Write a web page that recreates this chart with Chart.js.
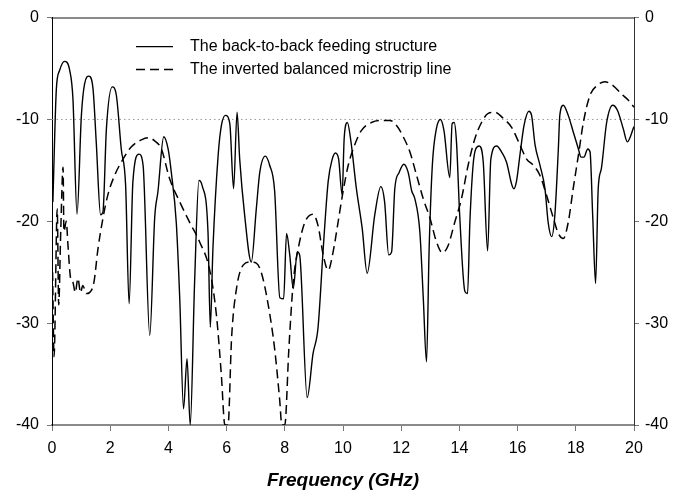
<!DOCTYPE html>
<html><head><meta charset="utf-8">
<script src="https://cdn.jsdelivr.net/npm/chart.js@4/dist/chart.umd.min.js"></script>
<style>html,body{margin:0;padding:0;background:#fff}#wrap{width:674px;height:492px}</style>
</head><body><div id="wrap"><canvas id="c" width="674" height="492"></canvas></div>
<script>
// ---- Data ----
const seriesNames = ["The back-to-back feeding structure", "The inverted balanced microstrip line"];

const freqA = [0.03,0.15,0.26,0.43,0.61,0.72,0.86,1.01,1.12,1.27,1.41,1.52,1.67,1.75,1.87,2.07,2.21,2.38,2.53,2.65,2.78,2.99,3.13,3.36,3.53,3.64,3.84,3.99,4.10,4.27,4.39,4.52,4.64,4.75,4.90,5.05,5.16,5.36,5.44,5.53,5.71,5.82,5.96,6.11,6.24,6.36,6.45,6.62,6.85,7.02,7.14,7.33,7.48,7.65,7.83,7.96,8.06,8.17,8.29,8.43,8.51,8.77,8.97,9.14,9.32,9.49,9.63,9.74,9.85,9.97,10.04,10.15,10.27,10.46,10.66,10.83,11.09,11.30,11.43,11.57,11.67,11.78,11.93,12.09,12.24,12.36,12.47,12.64,12.76,12.87,12.96,13.07,13.21,13.35,13.47,13.67,13.75,13.82,13.90,14.01,14.19,14.28,14.36,14.47,14.56,14.68,14.82,14.97,15.08,15.28,15.45,15.62,15.80,15.87,15.96,16.08,16.22,16.39,16.48,16.60,16.77,16.94,17.05,17.17,17.28,17.40,17.45,17.57,17.74,17.91,18.09,18.18,18.28,18.41,18.49,18.58,18.68,18.77,18.88,19.06,19.27,19.43,19.63,19.77,20.00];
const lossA = [-18.1,-7.0,-5.2,-4.3,-5.2,-8.0,-19.3,-9.6,-6.5,-5.75,-7.0,-12.2,-19.35,-19.1,-10.9,-6.8,-7.6,-12.9,-16.5,-28.1,-16.1,-13.4,-14.5,-31.2,-19.6,-17.1,-11.7,-12.9,-15.2,-20.1,-27.6,-38.4,-33.5,-40,-26,-16.0,-16.5,-21.0,-30.4,-22.7,-13.5,-10.6,-9.6,-10.4,-16.8,-9.3,-13.9,-19.4,-24.0,-18.8,-15.2,-13.6,-14.5,-17.0,-27.5,-27.6,-21.2,-23.3,-26.6,-23.0,-23.3,-37.3,-33.0,-30.5,-22.7,-16.1,-13.9,-13.3,-13.9,-17.4,-11.9,-10.3,-12.1,-16.8,-20.7,-25.1,-19.4,-16.6,-18.1,-23.3,-23.0,-16.8,-15.2,-14.4,-15.2,-17.0,-17.8,-21.0,-27.6,-33.8,-22.7,-14.5,-10.9,-10.0,-11.1,-15.7,-10.4,-10.3,-12.2,-19.4,-26.9,-27.1,-20.1,-14.5,-12.9,-12.6,-14.2,-22.9,-13.9,-12.6,-13.2,-14.2,-16.4,-16.8,-16.1,-13.5,-10.6,-9.2,-9.6,-12.5,-14.5,-16.8,-20.1,-21.5,-19.4,-12.9,-9.6,-8.6,-9.6,-11.2,-12.9,-13.7,-13.7,-12.9,-13.2,-19.4,-26.1,-16.8,-14.8,-10.3,-8.6,-9.1,-10.9,-12.2,-10.7];

const freqB = [0.02,0.07,0.18,0.23,0.30,0.38,0.41,0.49,0.55,0.64,0.72,0.80,0.89,0.98,1.06,1.18,1.29,1.44,1.58,1.75,1.92,2.15,2.44,2.72,3.07,3.30,3.53,3.76,4.04,4.39,4.73,5.07,5.42,5.65,5.82,5.94,6.05,6.17,6.34,6.57,6.80,7.02,7.20,7.43,7.65,7.82,7.90,8.00,8.14,8.29,8.46,8.69,8.97,9.14,9.32,9.49,9.66,9.83,10.00,10.18,10.40,10.63,10.98,11.32,11.61,11.84,12.07,12.30,12.53,12.76,12.99,13.21,13.42,13.61,13.84,14.07,14.30,14.53,14.76,14.99,15.22,15.51,15.80,16.08,16.31,16.54,16.77,17.00,17.23,17.40,17.57,17.74,17.91,18.09,18.26,18.49,18.72,19.00,19.29,19.57,19.80,20.00];
const lossB = [-25.0,-33.3,-18.8,-28.2,-21.0,-14.7,-21.0,-20.0,-22.4,-25.6,-26.0,-27.0,-25.6,-27.0,-26.3,-27.1,-27.0,-26.0,-22.7,-19.7,-17.4,-15.5,-13.9,-12.7,-12.0,-11.8,-12.1,-12.9,-15.8,-18.1,-20.1,-22.0,-24.8,-29.2,-35.1,-40,-40,-31.5,-26.6,-24.3,-24.0,-24.1,-25.1,-28.2,-32.5,-37.4,-40,-40,-32.5,-26.0,-22.7,-20.1,-19.3,-20.4,-23.3,-24.8,-23.0,-20.1,-17.1,-14.5,-12.5,-11.1,-10.3,-10.1,-10.1,-10.6,-11.7,-13.2,-15.5,-17.8,-19.7,-22.0,-23.1,-22.4,-20.1,-17.8,-14.5,-11.9,-10.3,-9.4,-9.3,-9.9,-10.8,-12.5,-13.9,-14.5,-15.5,-17.5,-19.7,-21.2,-21.7,-20.1,-16.8,-13.5,-10.3,-7.6,-6.7,-6.3,-6.7,-7.5,-8.1,-8.8];

const refX = [0, 20];
const refY = [-10, -10];

const xTicks = [0,2,4,6,8,10,12,14,16,18,20];
const yTicks = [-40,-30,-20,-10,0];
const xTitle = "Frequency (GHz)";

// ---- Build ----
const toPts = (xs, ys) => xs.map((x, i) => ({x: x, y: ys[i]}));
const FONT = '"Liberation Sans", Arial, Helvetica, sans-serif';
Chart.defaults.font.family = FONT;
Chart.defaults.font.size = 16;
Chart.defaults.color = '#000';

const legendPlugin = {
  id: 'insideLegend',
  afterDatasetsDraw(chart) {
    const ctx = chart.ctx, area = chart.chartArea;
    const items = chart.data.datasets.filter(d => d.inLegend);
    ctx.save();
    items.forEach((d, i) => {
      const y = area.top + 29 + i * 23;
      ctx.beginPath();
      ctx.setLineDash(d.borderDash || []);
      ctx.lineWidth = d.borderWidth;
      ctx.strokeStyle = d.borderColor;
      ctx.moveTo(area.left + 84, y);
      ctx.lineTo(area.left + 121, y);
      ctx.stroke();
      ctx.setLineDash([]);
      ctx.fillStyle = '#000';
      ctx.font = '16px ' + FONT;
      ctx.textBaseline = 'middle';
      ctx.textAlign = 'left';
      ctx.fillText(d.label, area.left + 138, y);
    });
    ctx.restore();
  }
};

const tickFilter = (list) => (scale) => { scale.ticks = list.map(v => ({value: v})); };

new Chart(document.getElementById('c'), {
  type: 'line',
  data: {
    datasets: [
      { label: 'ref', data: toPts(refX, refY), borderColor: '#9a9a9a', borderWidth: 1, borderDash: [1.5, 3],
        pointRadius: 0, yAxisID: 'y', xAxisID: 'x', order: 3 },
      { label: seriesNames[0], inLegend: true, data: toPts(freqA, lossA), borderColor: '#000', borderWidth: 1.4,
        pointRadius: 0, cubicInterpolationMode: 'monotone', yAxisID: 'y', xAxisID: 'x', order: 1 },
      { label: seriesNames[1], inLegend: true, data: toPts(freqB, lossB), borderColor: '#000', borderWidth: 1.5,
        borderDash: [9, 5], pointRadius: 0, cubicInterpolationMode: 'monotone', yAxisID: 'y', xAxisID: 'x', order: 2 }
    ]
  },
  options: {
    responsive: false,
    animation: false,
    devicePixelRatio: 1,
    layout: { padding: 0 },
    plugins: { legend: { display: false }, tooltip: { enabled: false } },
    scales: {
      x: {
        type: 'linear', position: 'bottom', min: 0, max: 20,
        afterBuildTicks: tickFilter(xTicks),
        afterFit: s => { s.height = 67; },
        ticks: { padding: 8, font: { size: 16 }, color: '#000', maxRotation: 0 },
        grid: { drawOnChartArea: false, drawTicks: true, tickLength: 6, color: '#777', tickWidth: 1 },
        border: { display: true, color: '#8a8a8a', width: 2 },
        title: { display: true, text: xTitle, font: { size: 19, weight: 'bold', style: 'italic' }, color: '#000', padding: { top: 0, bottom: 0 } }
      },
      xTop: {
        type: 'linear', position: 'top', min: 0, max: 20,
        afterFit: s => { s.height = 17; },
        ticks: { display: false },
        grid: { drawOnChartArea: false, drawTicks: false },
        border: { display: true, color: '#8a8a8a', width: 2 }
      },
      y: {
        type: 'linear', position: 'left', min: -40, max: 0,
        afterBuildTicks: tickFilter(yTicks),
        afterFit: s => { s.width = 52; },
        ticks: { padding: 8, font: { size: 16 }, color: '#000' },
        grid: { drawOnChartArea: false, drawTicks: true, tickLength: 5, color: '#777' },
        border: { display: true, color: '#000', width: 1 }
      },
      y2: {
        type: 'linear', position: 'right', min: -40, max: 0,
        afterBuildTicks: tickFilter(yTicks),
        afterFit: s => { s.width = 40; },
        ticks: { padding: 6, font: { size: 16 }, color: '#000' },
        grid: { drawOnChartArea: false, drawTicks: true, tickLength: 5, color: '#777' },
        border: { display: true, color: '#333', width: 1 }
      }
    }
  },
  plugins: [legendPlugin]
});
</script>
</body></html>
